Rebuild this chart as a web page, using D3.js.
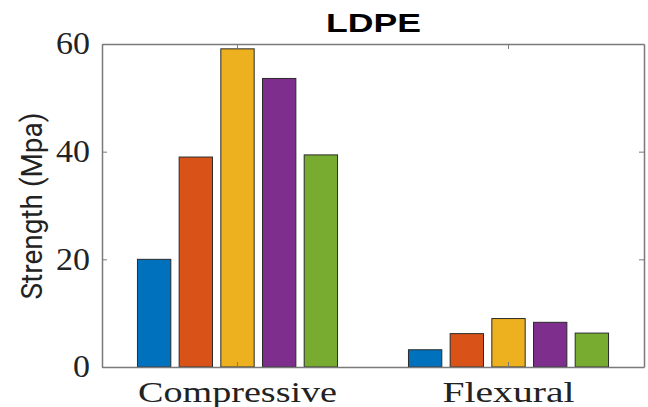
<!DOCTYPE html>
<html>
<head>
<meta charset="utf-8">
<script src="https://cdn.jsdelivr.net/npm/d3@7"></script>
<style>
  html, body { margin: 0; padding: 0; background: #fff; }
  svg { display: block; }
</style>
</head>
<body>
<svg id="chart" width="648" height="407"></svg>
<script>
const categories = ["Compressive", "Flexural"];
const seriesNames = ["S1", "S2", "S3", "S4", "S5"];
const seriesColors = ["#0072BD", "#D95319", "#EDB120", "#7E2F8E", "#77AC30"];
const values = [
  [20.0, 39.0, 59.1, 53.6, 39.4],  // Compressive
  [3.2, 6.2, 9.0, 8.3, 6.3]        // Flexural
];
const yTicks = [0, 20, 40, 60];
const title = "LDPE";
const yLabel = "Strength (Mpa)";

(function () {
const svg = d3.select("#chart");
const pL = 102, pR = 644, pT = 44, pB = 367;

const x = d3.scaleBand().domain(categories).range([pL, pR]).paddingInner(0).paddingOuter(0);
const groupW = x.bandwidth() * 0.769;
const xs = d3.scaleBand().domain(seriesNames).range([-groupW / 2, groupW / 2])
  .paddingInner(0.2).paddingOuter(0.1);
const y = d3.scaleLinear().domain([0, 60]).range([pB, pT]);

// bars
const groups = svg.append("g").selectAll("g").data(categories).join("g")
  .attr("transform", d => `translate(${x(d) + x.bandwidth() / 2},0)`);
groups.selectAll("rect")
  .data((c, i) => values[i].map((v, j) => ({ v, s: seriesNames[j], color: seriesColors[j] })))
  .join("rect")
  .attr("x", d => xs(d.s))
  .attr("width", xs.bandwidth())
  .attr("y", d => y(d.v))
  .attr("height", d => y(0) - y(d.v))
  .attr("fill", d => d.color)
  .attr("stroke", "#2a2a2a")
  .attr("stroke-width", 1);

const axisColor = "#7a7a7a";
function styleAxis(g) {
  g.select(".domain").attr("stroke", axisColor).attr("stroke-width", 1.5);
  g.selectAll(".tick line").attr("stroke", axisColor).attr("stroke-width", 1);
}

// left axis
const gl = svg.append("g").attr("transform", `translate(${pL},0)`)
  .call(d3.axisLeft(y).tickValues(yTicks).tickSize(-5).tickSizeOuter(0).tickPadding(12));
styleAxis(gl);
gl.selectAll(".tick text")
  .attr("font-family", "'Liberation Serif', 'DejaVu Serif', serif")
  .attr("font-size", 31)
  .attr("fill", "#222")
  .attr("textLength", d => String(d).length * 17)
  .attr("lengthAdjust", "spacingAndGlyphs");

// right axis
const gr = svg.append("g").attr("transform", `translate(${pR},0)`)
  .call(d3.axisRight(y).tickValues(yTicks).tickSize(-5).tickSizeOuter(0).tickFormat(""));
styleAxis(gr);

// top axis
const gt = svg.append("g").attr("transform", `translate(0,${pT})`)
  .call(d3.axisTop(x).tickSize(-5).tickSizeOuter(0).tickFormat(""));
styleAxis(gt);

// bottom axis
const labelWidths = { "Compressive": 199, "Flexural": 132 };
const gb = svg.append("g").attr("transform", `translate(0,${pB})`)
  .call(d3.axisBottom(x).tickSize(-5).tickSizeOuter(0));
styleAxis(gb);
gb.selectAll(".tick text")
  .attr("y", 35)
  .attr("dy", 0)
  .attr("font-family", "'Liberation Serif', 'DejaVu Serif', serif")
  .attr("font-size", 30)
  .attr("fill", "#222")
  .attr("textLength", d => labelWidths[d])
  .attr("lengthAdjust", "spacingAndGlyphs");

// title
svg.append("text")
  .attr("x", (pL + pR) / 2 + 0.5)
  .attr("y", 32)
  .attr("text-anchor", "middle")
  .attr("font-family", "'Liberation Sans', Arial, sans-serif")
  .attr("font-weight", "bold")
  .attr("font-size", 26.5)
  .attr("fill", "#000")
  .attr("textLength", 95)
  .attr("lengthAdjust", "spacingAndGlyphs")
  .text(title);

// y label
svg.append("text")
  .attr("transform", `translate(42,${(pT + pB) / 2 + 0.5}) rotate(-90)`)
  .attr("text-anchor", "middle")
  .attr("font-family", "Roboto, 'Liberation Sans', sans-serif")
  .attr("font-size", 30)
  .attr("fill", "#222")
  .attr("textLength", 187)
  .attr("lengthAdjust", "spacingAndGlyphs")
  .text(yLabel);
})();
</script>
</body>
</html>
